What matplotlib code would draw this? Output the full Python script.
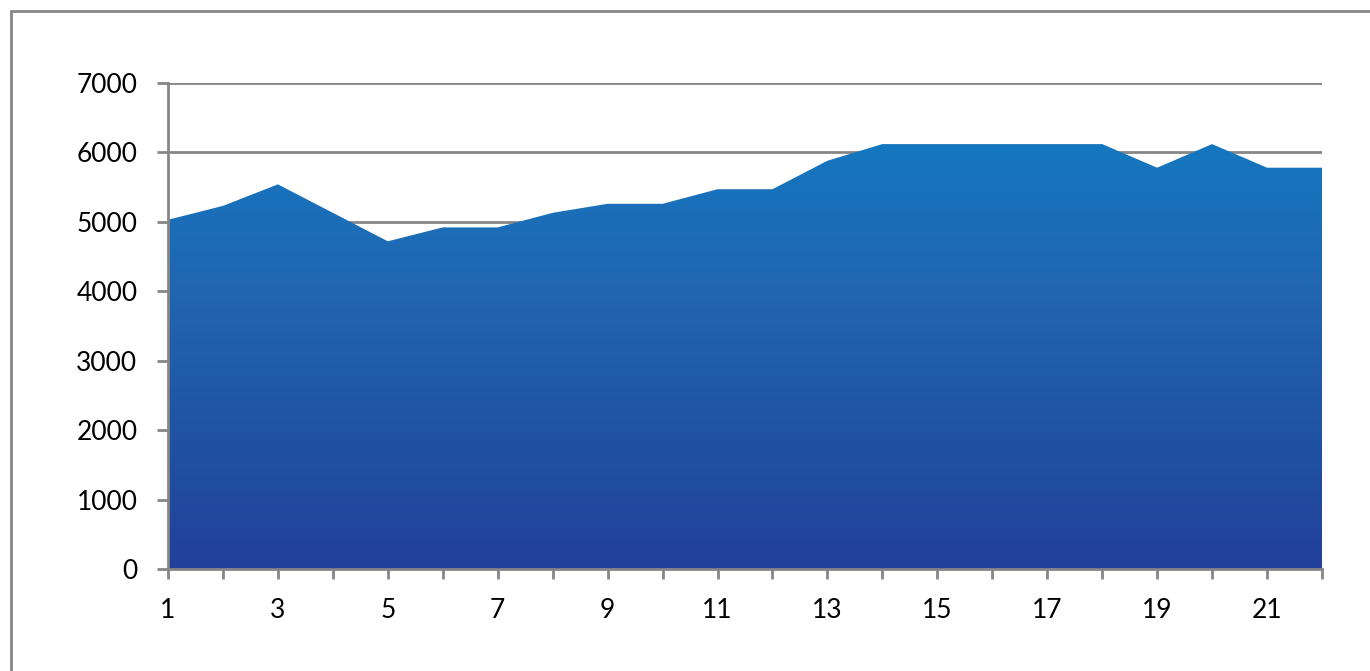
import numpy as np
import matplotlib
matplotlib.use("Agg")
import matplotlib.pyplot as plt
from matplotlib.colors import LinearSegmentedColormap
from matplotlib.patches import Rectangle

# Data
x_values = list(range(1, 23))
y_values = [5030, 5230, 5540, 5130, 4720, 4920, 4920, 5130, 5260, 5260, 5470,
            5470, 5880, 6120, 6120, 6120, 6120, 6120, 5780, 6120, 5780, 5780]
y_ticks = [0, 1000, 2000, 3000, 4000, 5000, 6000, 7000]
x_tick_labels = [str(v) if v % 2 == 1 else "" for v in x_values]

grid_color = "#868686"

fig = plt.figure(figsize=(13.70, 6.71), dpi=100)
ax = fig.add_axes([168 / 1370, 1 - 569 / 671, (1322 - 168) / 1370, (569 - 83) / 671])

ax.set_xlim(1, 22)
ax.set_ylim(0, 7000)

# gridlines
ax.set_yticks(y_ticks)
ax.yaxis.grid(True, color=grid_color, linewidth=2.0)
ax.set_axisbelow(True)

# area with vertical gradient
poly = ax.fill_between(x_values, y_values, 0, color="none", linewidth=0)
ymax = max(y_values)
cmap = LinearSegmentedColormap.from_list(
    "grad", [(0.0, "#23409A"), (0.35, "#1F55A4"), (0.65, "#2265B1"), (1.0, "#1477BF")])
grad = np.linspace(0, 1, 256).reshape(-1, 1)
im = ax.imshow(grad, extent=[1, 22, 0, ymax], origin="lower", aspect="auto",
               cmap=cmap, zorder=2)
path = poly.get_paths()[0]
im.set_clip_path(path, transform=ax.transData)
ax.set_xlim(1, 22)
ax.set_ylim(0, 7000)

# spines
for s in ["top", "right"]:
    ax.spines[s].set_visible(False)
for s in ["left", "bottom"]:
    ax.spines[s].set_color(grid_color)
    ax.spines[s].set_linewidth(2.0)
    ax.spines[s].set_zorder(3)

ax.set_xticks(x_values)
ax.set_xticklabels(x_tick_labels)
ax.tick_params(axis="y", length=8, width=2, color=grid_color, pad=14,
               labelsize=19, labelcolor="black")
ax.tick_params(axis="x", length=7, width=2, color=grid_color, pad=14,
               labelsize=19, labelcolor="black")
for lbl in ax.get_xticklabels() + ax.get_yticklabels():
    lbl.set_fontfamily("Lato")

# outer chart border (partially cropped)
fig.patches.append(Rectangle((11 / 1370, -0.2), 1.3, 0.2 + (1 - 11 / 671),
                             transform=fig.transFigure, fill=False,
                             edgecolor=grid_color, linewidth=2.0))

fig.savefig("out.png", dpi=100)
